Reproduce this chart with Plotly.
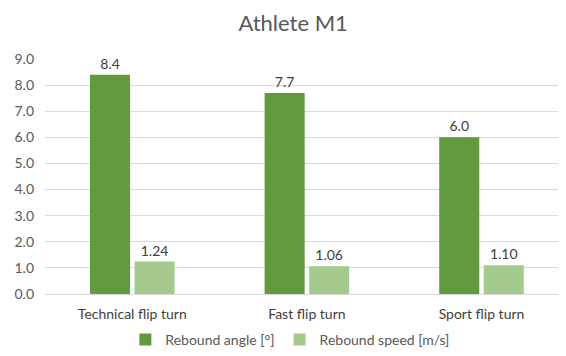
import plotly.graph_objects as go

categories = ["Technical flip turn", "Fast flip turn", "Sport flip turn"]
rebound_angle = [8.4, 7.7, 6.0]
rebound_speed = [1.24, 1.06, 1.10]
angle_labels = ["8.4", "7.7", "6.0"]
speed_labels = ["1.24", "1.06", "1.10"]
y_ticks = [0, 1, 2, 3, 4, 5, 6, 7, 8, 9]
y_ticklabels = ["0.0", "1.0", "2.0", "3.0", "4.0", "5.0", "6.0", "7.0", "8.0", "9.0"]

FONT = "Lato, Carlito, Calibri, sans-serif"
TXT = "#404040"

fig = go.Figure()
fig.add_trace(go.Bar(
    x=categories, y=rebound_angle, name="Rebound angle [°]",
    marker=dict(color="#629A3E", line=dict(width=0)),
    text=angle_labels, textposition="outside", cliponaxis=False,
    textfont=dict(family=FONT, size=14, color=TXT),
))
fig.add_trace(go.Bar(
    x=categories, y=rebound_speed, name="Rebound speed [m/s]",
    marker=dict(color="#A5CA8D", line=dict(width=0)),
    text=speed_labels, textposition="outside", cliponaxis=False,
    textfont=dict(family=FONT, size=14, color=TXT),
))

# The page adds an 8px body margin, so the figure is 8px smaller and shifted.
fig.update_layout(
    width=558, height=348,
    margin=dict(l=37, r=0, t=51, b=62),
    paper_bgcolor="white", plot_bgcolor="white",
    barmode="group", bargap=0.49, bargroupgap=0.1,
    font=dict(family=FONT, size=14, color=TXT),
    title=dict(text="Athlete M1", x=0.511, xanchor="center",
               yref="container", y=1 - 15 / 348, yanchor="middle",
               font=dict(family=FONT, size=22, color="#595959")),
    showlegend=True,
    legend=dict(orientation="h", xref="container", x=0.506, xanchor="center",
                yref="container", y=-0.025, yanchor="bottom",
                font=dict(family=FONT, size=14, color="#595959"),
                itemwidth=30, tracegroupgap=0),
)
fig.update_xaxes(
    range=[-0.5, 2.484], showgrid=False, showline=False, zeroline=False,
    ticks="", tickfont=dict(family=FONT, size=14, color=TXT), ticklabelstandoff=10,
)
fig.update_yaxes(
    range=[0, 9], tickvals=y_ticks, ticktext=y_ticklabels,
    showgrid=True, gridcolor="#D9D9D9", gridwidth=1, zeroline=True,
    zerolinecolor="#D9D9D9", zerolinewidth=1, showline=False, ticks="",
    tickfont=dict(family=FONT, size=14, color="#595959"), ticklabelstandoff=10,
)

fig.write_html("out.html")
